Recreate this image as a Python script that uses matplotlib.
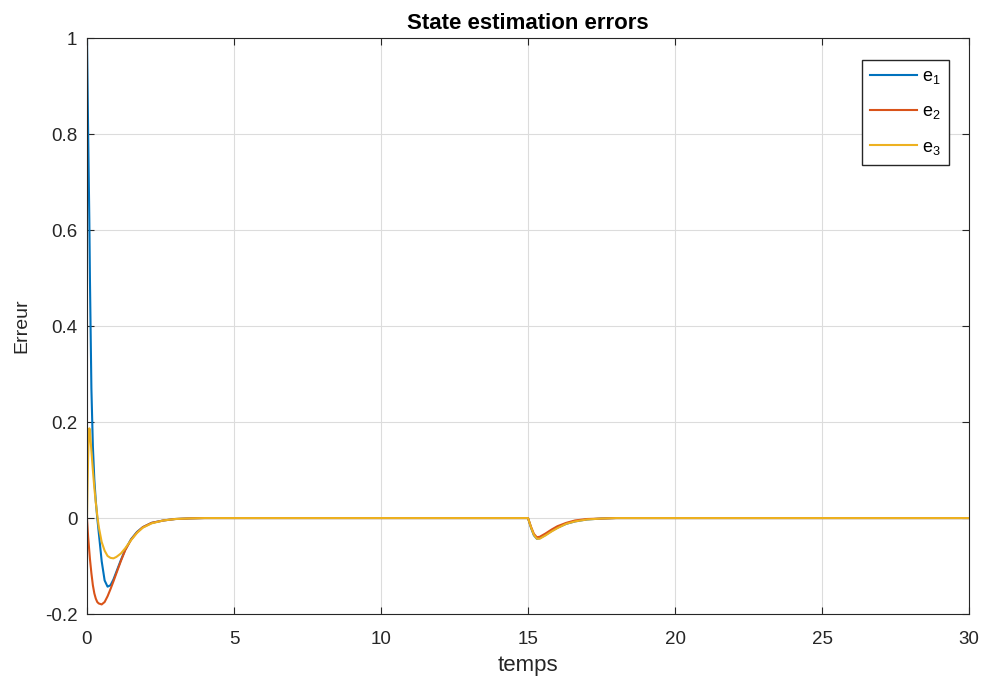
import numpy as np
import matplotlib.pyplot as plt

plt.rcParams['font.family'] = ['Liberation Sans', 'DejaVu Sans']

# temps (s) and the three estimation errors
t = [0, 0.02, 0.04, 0.06, 0.08, 0.1, 0.15, 0.2, 0.25, 0.3, 0.35, 0.4, 0.5, 0.6,
     0.7, 0.8, 0.9, 1.0, 1.15, 1.3, 1.5, 1.7, 1.9, 2.2, 2.6, 3.0, 3.5, 4.0,
     15.0, 15.1, 15.2, 15.3, 15.4, 15.6, 15.8, 16.0, 16.3, 16.6, 17.0, 17.5, 18.0, 30.0]
e1 = [1.0, 0.9, 0.8, 0.71, 0.62, 0.5, 0.27, 0.15, 0.08, 0.035, 0.0, -0.03, -0.09, -0.13,
      -0.143, -0.14, -0.128, -0.112, -0.088, -0.066, -0.044, -0.029, -0.019, -0.01, -0.005, -0.002, -0.0007, 0,
      0, -0.02, -0.036, -0.043, -0.042, -0.035, -0.027, -0.02, -0.012, -0.007, -0.003, -0.001, 0, 0]
e2 = [0, -0.02, -0.04, -0.055, -0.07, -0.085, -0.115, -0.14, -0.157, -0.168, -0.175, -0.178, -0.18, -0.175,
      -0.163, -0.148, -0.132, -0.115, -0.09, -0.067, -0.045, -0.03, -0.019, -0.01, -0.005, -0.002, -0.0007, 0,
      0, -0.018, -0.033, -0.04, -0.039, -0.032, -0.024, -0.017, -0.01, -0.005, -0.002, -0.001, 0, 0]
e3 = [0, 0.07, 0.13, 0.17, 0.187, 0.182, 0.14, 0.1, 0.063, 0.032, 0.005, -0.018, -0.05, -0.068,
      -0.079, -0.083, -0.084, -0.081, -0.074, -0.063, -0.046, -0.031, -0.02, -0.011, -0.005, -0.002, -0.0007, 0,
      0, -0.019, -0.035, -0.043, -0.043, -0.036, -0.028, -0.021, -0.012, -0.007, -0.003, -0.001, 0, 0]

series = [('$\\mathregular{e_{1}}$', e1, '#0072BD'),
          ('$\\mathregular{e_{2}}$', e2, '#D95319'),
          ('$\\mathregular{e_{3}}$', e3, '#EDB120')]

fig = plt.figure(figsize=(9.84, 6.83), dpi=100)
ax = fig.add_axes([0.0884, 0.101, 0.8964, 0.843])

for name, e, c in series:
    ax.plot(t, e, color=c, linewidth=1.5, label=name)

ax.set_xlim(0, 30)
ax.set_ylim(-0.2, 1)
ax.set_xticks([0, 5, 10, 15, 20, 25, 30])
ax.set_yticks([-0.2, 0, 0.2, 0.4, 0.6, 0.8, 1])
ax.set_yticklabels(['-0.2', '0', '0.2', '0.4', '0.6', '0.8', '1'])
ax.grid(True, color='#dcdcdc', linewidth=0.8)
ax.set_axisbelow(True)
ax.tick_params(direction='in', top=True, right=True, length=5, labelsize=13.5,
               colors='#262626')
ax.tick_params(axis='x', pad=12)
ax.tick_params(axis='y', pad=7)
for s in ax.spines.values():
    s.set_color('#262626')

ax.set_title('State estimation errors', fontsize=16, fontweight='bold', pad=7)
ax.set_xlabel('temps', fontsize=16, color='#262626', labelpad=5)
ax.set_ylabel('Erreur', fontsize=14, color='#262626', labelpad=10)

leg = ax.legend(loc='upper right', bbox_to_anchor=(0.977, 0.962), borderaxespad=0,
                fontsize=13, handlelength=2.6, fancybox=False, framealpha=1,
                edgecolor='#262626', borderpad=0.45, labelspacing=0.95, handletextpad=0.25)
leg.get_frame().set_linewidth(1.0)

fig.savefig('out.png', dpi=100)
